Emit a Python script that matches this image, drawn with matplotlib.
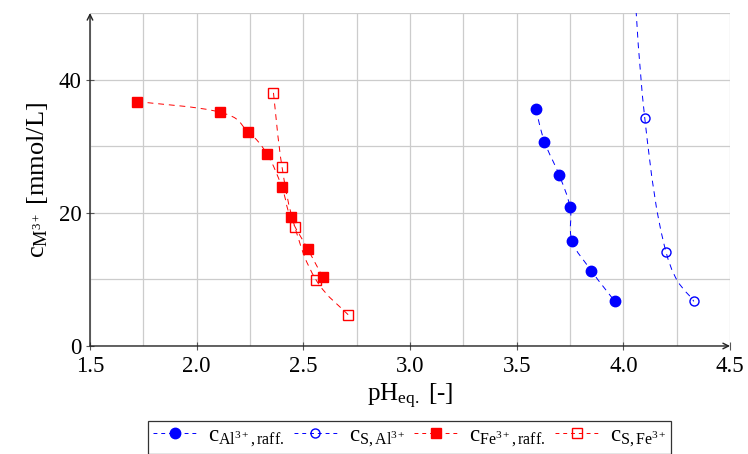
import numpy as np
import matplotlib
matplotlib.use("Agg")
import matplotlib.pyplot as plt
from matplotlib.path import Path
from matplotlib.patches import PathPatch
from matplotlib.lines import Line2D

plt.rcParams['font.family'] = ['Liberation Serif', 'DejaVu Serif']
plt.rcParams['mathtext.fontset'] = 'custom'
plt.rcParams['mathtext.rm'] = 'Liberation Serif'
plt.rcParams['mathtext.it'] = 'Liberation Serif:italic'

# Data
al_raff_ph = [3.59, 3.63, 3.70, 3.75, 3.76, 3.85, 3.96]
al_raff_c = [35.6, 30.7, 25.6, 20.8, 15.8, 11.3, 6.7]
al_s_ph = [4.04, 4.10, 4.20, 4.33]
al_s_c = [60.0, 34.3, 14.1, 6.7]
fe_raff_ph = [1.72, 2.11, 2.24, 2.33, 2.40, 2.44, 2.52, 2.59]
fe_raff_c = [36.7, 35.1, 32.2, 28.8, 23.8, 19.3, 14.6, 10.4]
fe_s_ph = [2.36, 2.40, 2.46, 2.56, 2.71]
fe_s_c = [38.0, 26.9, 17.9, 9.9, 4.7]

labels = [r'$\mathrm{c_{Al^{3+},raff.}}$', r'$\mathrm{c_{S,Al^{3+}}}$',
          r'$\mathrm{c_{Fe^{3+},raff.}}$', r'$\mathrm{c_{S,Fe^{3+}}}$']
xticks = [1.5, 2.0, 2.5, 3.0, 3.5, 4.0, 4.5]
yticks = [0, 20, 40]

fig = plt.figure(figsize=(7.48, 4.54), dpi=100)
ax = fig.add_axes([0.1203, 0.2379, 0.976 - 0.1203, 0.9714 - 0.2379])


def smooth_path(x, y, k=0.2):
    p = np.column_stack([x, y]).astype(float)
    n = len(p)
    verts = [p[0]]
    codes = [Path.MOVETO]
    for i in range(n - 1):
        p0 = p[i - 1] if i > 0 else p[i]
        p3 = p[i + 2] if i + 2 < n else p[i + 1]
        c1 = p[i] + k * (p[i + 1] - p0)
        c2 = p[i + 1] - k * (p3 - p[i])
        verts += [c1, c2, p[i + 1]]
        codes += [Path.CURVE4] * 3
    return Path(verts, codes)


dash = (0, (6, 5))
series = [
    (al_raff_ph, al_raff_c, 'blue', 'o', 'blue', 7.5),
    (al_s_ph, al_s_c, 'blue', 'o', 'none', 6.5),
    (fe_raff_ph, fe_raff_c, 'red', 's', 'red', 7.0),
    (fe_s_ph, fe_s_c, 'red', 's', 'none', 6.5),
]
handles = []
for (x, y, col, m, fc, ms), lab in zip(series, labels):
    patch = PathPatch(smooth_path(x, y), facecolor='none', edgecolor=col,
                      lw=0.7, linestyle=dash, zorder=3)
    ax.add_patch(patch)
    ax.plot(x, y, linestyle='none', marker=m, ms=ms, mfc=fc, mec=col,
            mew=1.0, zorder=4)
    handles.append(Line2D([], [], color=col, lw=0.7, linestyle=(0, (4, 4)),
                          marker=m, ms=ms, mfc=fc, mec=col, mew=1.0))

ax.set_xlim(1.5, 4.5)
ax.set_ylim(0, 50)
ax.set_xticks(xticks)
ax.set_xticklabels([f'{v:.1f}' for v in xticks])
ax.set_yticks(yticks)
ax.set_xticks(np.arange(1.5, 4.51, 0.25), minor=True)
ax.set_yticks(np.arange(0, 50.1, 10), minor=True)
ax.grid(which='both', color='#cccccc', lw=0.9)
ax.set_axisbelow(True)
ax.tick_params(which='major', direction='inout', length=6, width=0.8,
               labelsize=16.5, color='#555555')
ax.tick_params(which='minor', length=0)
ax.tick_params(axis='x', pad=4)
ax.tick_params(axis='y', pad=3)
for s in ['top', 'right', 'left', 'bottom']:
    ax.spines[s].set_visible(False)
ax.annotate('', xy=(0, 1.0), xytext=(0, 0), xycoords='axes fraction',
            arrowprops=dict(arrowstyle='->', lw=1.0, color='#222222',
                            shrinkA=0, shrinkB=0, mutation_scale=10))
ax.annotate('', xy=(1.0, 0), xytext=(0, 0), xycoords='axes fraction',
            arrowprops=dict(arrowstyle='->', lw=1.0, color='#222222',
                            shrinkA=0, shrinkB=0, mutation_scale=10))

ax.set_xlabel(r'pH$_\mathrm{eq.}$ [-]', fontsize=18, labelpad=4)
ax.set_ylabel(r'$\mathrm{c_{M^{3+}}}$ [mmol/L]', fontsize=19, labelpad=6)

leg = fig.legend(handles, labels, loc='upper center',
                 bbox_to_anchor=(0.548, 0.073), ncol=4, fontsize=16.5,
                 frameon=True, fancybox=False, edgecolor='black',
                 handlelength=1.9, handletextpad=0.5, columnspacing=0.4,
                 borderpad=0.2, borderaxespad=0)
leg.get_frame().set_linewidth(0.9)

fig.savefig('out.png', dpi=100)
